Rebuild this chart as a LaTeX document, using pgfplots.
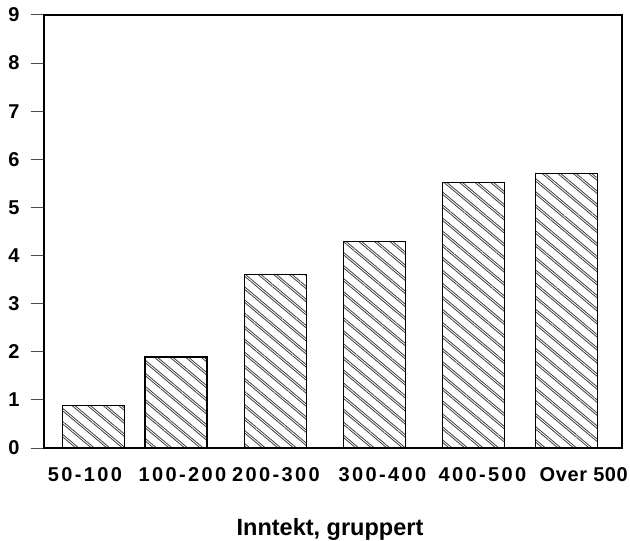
\documentclass[border=0pt]{standalone}
\usepackage{fontspec}
\setmainfont{Liberation Sans}
\usepackage{pgfplots}
\pgfplotsset{compat=1.18}
\usetikzlibrary{patterns.meta}

\begin{document}
\begin{tikzpicture}
\begin{axis}[
    scale only axis,
    width=578pt, height=433pt,
    xmin=0, xmax=578, ymin=0, ymax=9,
    ybar, bar width=62,
    ytick={0,...,9},
    xtick={41,138.5,232,338.5,438.5,539.8},
    xticklabels={50-100,100-200,200-300,300-400,400-500,{\addfontfeature{LetterSpace=3}Over 500}},
    x tick style={draw=none},
    tick align=outside, ytick pos=left,
    major tick length=13pt,
    y tick style={line width=1pt, black!70},
    axis line style={line width=1.2pt},
    /pgf/number format/assume math mode=true,
    yticklabel style={font=\fontsize{20}{22}\selectfont\bfseries, xshift=-8pt},
    xticklabel style={font=\fontsize{20}{22}\selectfont\bfseries\addfontfeature{LetterSpace=12}, yshift=-3pt},
    xlabel={Inntekt, gruppert},
    xlabel style={font=\fontsize{23.5}{25}\selectfont\bfseries, yshift=-30pt, xshift=-3pt},
]
\addplot[draw=black, line width=1.2pt, fill=white,
    pattern={Lines[angle=-40,distance=10pt,line width=0.8pt]}, pattern color=black!75,
    postaction={pattern={Lines[angle=-40,distance=10pt,line width=0.8pt,yshift=2.5pt]}, pattern color=black!75}]
    coordinates {(49.8,0.88) (132,1.89) (231.5,3.6) (330.5,4.3) (429.5,5.52) (522.3,5.7)};
\end{axis}
\pgfresetboundingbox
\path (current axis.south west) ++(-44pt,-93pt) rectangle ([shift={(8pt,15pt)}]current axis.north east);
\end{tikzpicture}
\end{document}
